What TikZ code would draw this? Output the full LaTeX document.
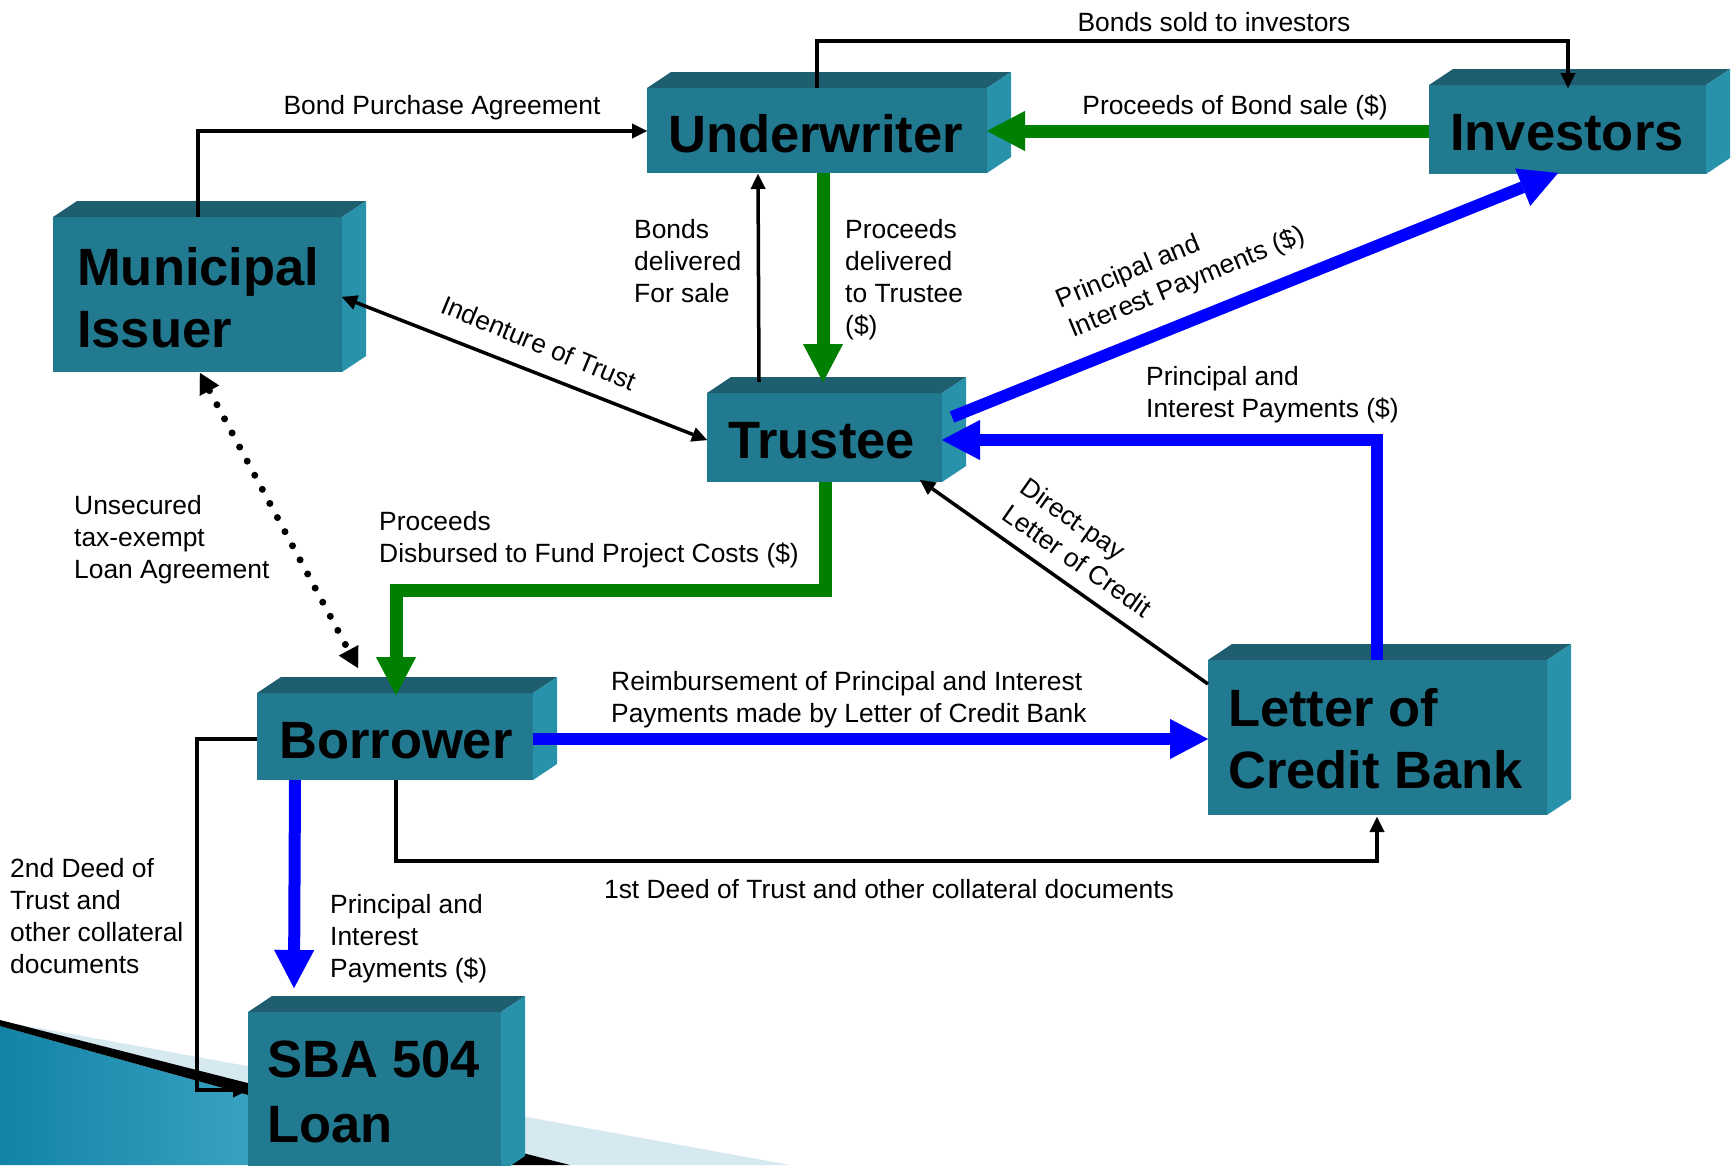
\documentclass[tikz,border=0pt]{standalone}
\usepackage{fontspec}
\setmainfont{Liberation Sans}
\usetikzlibrary{arrows.meta,calc}
\definecolor{frontc}{HTML}{227A91}
\definecolor{topc}{HTML}{1E5E6E}
\definecolor{sidec}{HTML}{2892AA}
\definecolor{grnc}{HTML}{008000}
\definecolor{bluc}{HTML}{0000FF}
\definecolor{lightband}{HTML}{D6E9F1}
\definecolor{decdark}{HTML}{1283A6}
\definecolor{declight}{HTML}{5EC0DC}
\newcommand\cubefaces[1]{%
  \fill[topc] (#1.north west) -- ++(24,-16) -- ($(#1.north east)+(24,-16)$) -- (#1.north east) -- cycle;
  \fill[sidec] (#1.north east) -- ++(24,-16) -- ($(#1.south east)+(24,-16)$) -- (#1.south east) -- cycle;}
\tikzset{
  frontbox/.style={anchor=north west, inner sep=0pt, outer sep=0pt, fill=frontc, draw=none},
  btxt/.style={anchor=base west, inner sep=0pt, align=left, font=\fontsize{52.5}{62}\selectfont\bfseries},
  lbl/.style={inner sep=0pt, align=left, font=\fontsize{26.4}{32}\selectfont},
  blkline/.style={draw=black, line width=3.5pt},
  grnline/.style={draw=grnc, line width=13pt},
  bluline/.style={draw=bluc, line width=12pt},
  dotline/.style={draw=black, line width=7pt, line cap=round, dash pattern=on 0pt off 16pt},
  blktip/.tip={Triangle[length=15pt,width=15pt,line width=0.1pt]},
  bigtip/.tip={Triangle[length=38pt,width=40pt,line width=0.1pt]},
  dottip/.tip={Triangle[length=20pt,width=22pt,line width=0.1pt]},
}
\begin{document}
\begin{tikzpicture}[x=1pt,y=-1pt]
\useasboundingbox (0,0) rectangle (1736,1165);
\clip (0,0) rectangle (1736,1165);
\fill[white] (0,0) rectangle (1736,1165);
% decoration bottom left
\fill[lightband] (0,1021) -- (790,1165) -- (570,1165) -- cycle;
\shade[left color=decdark, right color=declight] (0,1026) -- (500,1165) -- (0,1165) -- cycle;
\fill[black] (0,1020) -- (570,1165) -- (500,1165) -- (0,1026) -- cycle;
% boxes
\node[frontbox, minimum width=340pt, minimum height=85pt] (uw) at (647,88) {};
\node[frontbox, minimum width=277pt, minimum height=89pt] (inv) at (1429,85) {};
\node[frontbox, minimum width=289pt, minimum height=155pt] (mi) at (53,217) {};
\node[frontbox, minimum width=235pt, minimum height=89pt] (tr) at (707,393) {};
\node[frontbox, minimum width=276pt, minimum height=87pt] (bo) at (257,693) {};
\node[frontbox, minimum width=339pt, minimum height=155pt] (lc) at (1208,660) {};
\node[frontbox, minimum width=253pt, minimum height=160pt] (sba) at (248,1012) {};
\cubefaces{uw}\cubefaces{inv}\cubefaces{mi}\cubefaces{tr}\cubefaces{bo}\cubefaces{lc}\cubefaces{sba}
\node[btxt] (uwt) at (668,152) {Underwriter};
\node[btxt] (invt) at (1450,150) {Investors};
\node[btxt] (mit) at (77,347) {Municipal\\Issuer};
\node[btxt] (trt) at (728,458) {Trustee};
\node[btxt] (bot) at (279,758) {Borrower};
\node[btxt] (lct) at (1228,788) {Letter of\\Credit Bank};
\node[btxt, font=\fontsize{52.5}{65}\selectfont\bfseries] (sbat) at (267,1142) {SBA 504\\Loan};
% connectors
\draw[blkline, -blktip] ($(uw.north west)+(170,0)$) -- ++(0,-47) -| ($(inv.north west)+(139,3)$);
\draw[grnline, -bigtip] ($(inv.north west)+(0,46)$) -- ($(uw.north east)+(0,43)$);
\draw[blkline, -blktip] ($(mi.north west)+(145,0)$) |- ($(uw.north west)+(0,43)$);
\draw[blkline, -blktip] ($(tr.north west)+(52,-11)$) -- ($(uw.south west)+(111,1)$);
\draw[grnline, -bigtip] ($(uw.south west)+(176,0)$) -- ($(tr.north west)+(116,-11)$);
\draw[blkline, blktip-blktip] ($(mi.north east)+(0,80)$) -- ($(tr.north west)+(0,47)$);
\draw[bluline, -bigtip] ($(tr.north east)+(10,24)$) -- ($(inv.south west)+(129,-1)$);
\draw[bluline, -bigtip] ($(lc.north west)+(169,0)$) |- ($(tr.north east)+(0,47)$);
\draw[blkline, -blktip] ($(lc.north west)+(0,24)$) -- ($(tr.south east)+(-22,-2)$);
\draw[dotline, dottip-dottip] ($(mi.south west)+(147,1)$) -- ($(bo.north west)+(101,-25)$);
\draw[grnline, -bigtip] ($(tr.south west)+(118,0)$) -- ++(0,108) -| ($(bo.north west)+(139,2)$);
\draw[bluline, -bigtip] ($(bo.north east)+(0,46)$) -- ($(lc.north west)+(0,79)$);
\draw[blkline, -blktip] ($(bo.south west)+(139,0)$) -- ++(0,81) -| ($(lc.south west)+(169,2)$);
\draw[bluline, -bigtip] ($(bo.south west)+(38,0)$) -- ($(sba.north west)+(46,-24)$);
\draw[blkline, -blktip] ($(bo.north west)+(0,46)$) -- ++(-60,0) |- ($(sba.north west)+(0,78)$);
% labels
\node[lbl, anchor=base] (l1) at (1214,31) {Bonds sold to investors};
\node[lbl, anchor=base] (l2) at (1235,114) {Proceeds of Bond sale (\$)};
\node[lbl, anchor=base] (l3) at (442,114) {Bond Purchase Agreement};
\node[lbl, anchor=base west] (l4) at (634,302) {Bonds\\delivered\\For sale};
\node[lbl, anchor=base west] (l5) at (845,334) {Proceeds\\delivered\\to Trustee\\(\$)};
\node[lbl, rotate=-22.5] (l6) at (539,343) {Indenture of Trust};
\node[lbl, rotate=22.5, anchor=base west] (l7) at (1073,338) {Principal and\\Interest Payments (\$)};
\node[lbl, anchor=base west] (l8) at (1146,417) {Principal and\\Interest Payments (\$)};
\node[lbl, rotate=-35, anchor=base west] (l9) at (1000,518) {Direct-pay\\Letter of Credit};
\node[lbl, anchor=base west] (l10) at (74,578) {Unsecured\\tax-exempt\\Loan Agreement};
\node[lbl, anchor=base west] (l11) at (379,562) {Proceeds\\Disbursed to Fund Project Costs (\$)};
\node[lbl, anchor=base west] (l12) at (611,722) {Reimbursement of Principal and Interest\\Payments made by Letter of Credit Bank};
\node[lbl, anchor=base] (l13) at (889,898) {1st Deed of Trust and other collateral documents};
\node[lbl, anchor=base west] (l14) at (330,977) {Principal and\\Interest\\Payments (\$)};
\node[lbl, anchor=base west] (l15) at (10,973) {2nd Deed of\\Trust and\\other collateral\\documents};
\end{tikzpicture}
\end{document}
